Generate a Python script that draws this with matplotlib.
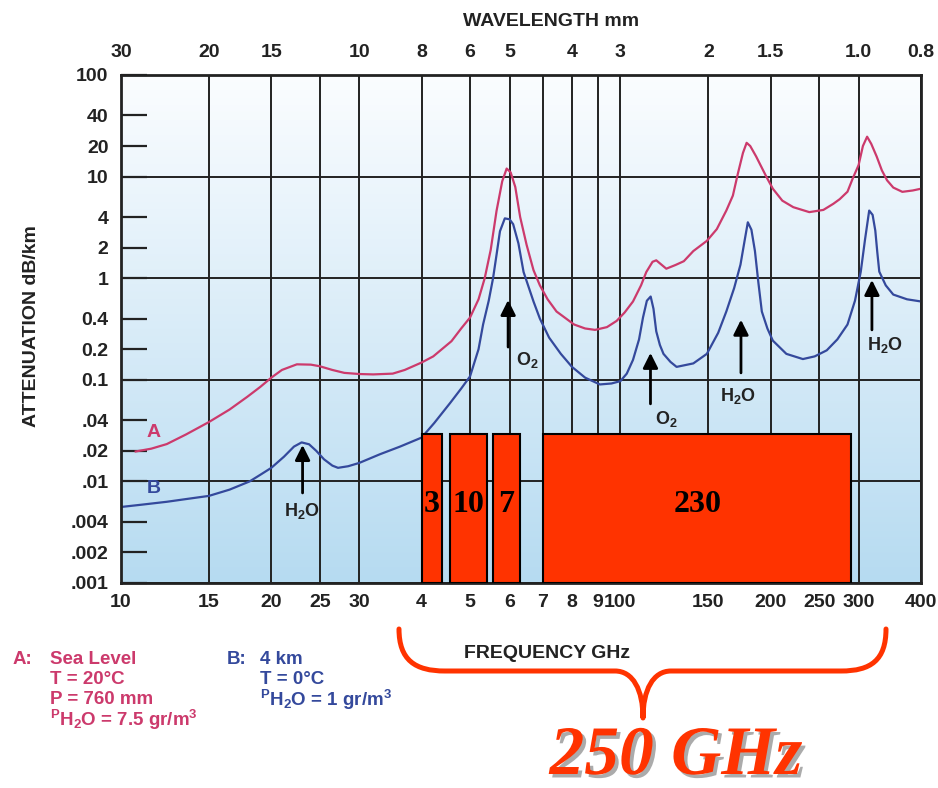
import matplotlib
matplotlib.use('Agg')
import matplotlib.pyplot as plt
import matplotlib.patheffects as pe
from matplotlib.path import Path
from matplotlib.patches import PathPatch
from matplotlib.colors import LinearSegmentedColormap
from matplotlib.ticker import NullLocator
from matplotlib.transforms import Affine2D
import numpy as np

plt.rcParams['font.family'] = ['Liberation Sans', 'DejaVu Sans']
plt.rcParams['mathtext.fontset'] = 'custom'
plt.rcParams['mathtext.rm'] = 'Liberation Sans:bold'
plt.rcParams['mathtext.bf'] = 'Liberation Sans:bold'
plt.rcParams['mathtext.it'] = 'Liberation Sans:bold'
plt.rcParams['mathtext.default'] = 'bf'

# curve A: sea level (GHz, dB/km)
freq_a = [10.7, 11.5, 12.35, 13.5, 15, 16.5, 17.9, 19, 20, 21, 22.5, 24, 25, 26.5, 28, 30, 32, 35, 37,
          40, 42.2, 45.9, 48, 50, 52, 53.5, 55, 56.5, 58, 59.2, 60.3, 61.6, 63, 64.9, 67, 69, 71.5, 74.5,
          80.8, 85, 89, 94, 98.3, 102, 106, 110, 112.7, 116, 118, 120, 123.6, 129, 134, 140, 149, 156,
          163, 168, 172, 176, 179, 182, 187, 196, 202, 211, 222, 239, 255, 267, 275, 285, 292, 300, 306,
          312, 318, 326, 334, 342, 352, 367, 385, 400]
att_a = [0.0197, 0.021, 0.0233, 0.029, 0.0384, 0.051, 0.068, 0.085, 0.105, 0.125, 0.142, 0.141, 0.136,
         0.125, 0.117, 0.114, 0.113, 0.115, 0.125, 0.148, 0.17, 0.24, 0.32, 0.41, 0.62, 1.0, 1.9, 4.6,
         9.0, 12.0, 11.0, 7.9, 4.0, 2.13, 1.2, 0.85, 0.62, 0.47, 0.35, 0.32, 0.31, 0.33, 0.38, 0.46,
         0.59, 0.85, 1.15, 1.45, 1.5, 1.4, 1.24, 1.35, 1.47, 1.85, 2.33, 3.04, 4.63, 6.5, 10.8, 17.1,
         21.5, 20.0, 15.8, 10.0, 7.6, 5.8, 5.0, 4.47, 4.7, 5.4, 6.0, 7.1, 9.6, 13.0, 20.0, 24.7, 21.0,
         15.8, 11.5, 9.2, 7.8, 7.08, 7.3, 7.6]

# curve B: 4 km altitude
freq_b = [10, 11, 12.35, 13.5, 15, 16.5, 18.1, 19, 20, 21.2, 22.2, 23.0, 23.8, 24.6, 25.5, 26.5, 27.2,
          28.5, 30, 33, 36.2, 40, 42.4, 45.6, 48, 50, 52, 53.1, 54.5, 55.6, 56.5, 57.4, 58.7, 60, 61,
          62.5, 64, 67, 69, 72, 76, 80, 85, 91, 96, 100, 103, 106, 109, 111, 113, 115, 116.5, 118, 120,
          122, 126, 129.6, 140, 149, 157, 163, 169, 174, 177.5, 180, 183, 186, 189, 192, 197, 202, 215,
          232, 245, 259, 272, 285, 295, 303, 309, 315, 320, 324, 327, 330, 340, 352, 375, 400]
att_b = [0.0056, 0.0059, 0.0063, 0.0067, 0.0072, 0.0083, 0.0100, 0.0116, 0.0136, 0.0175, 0.022, 0.0242,
         0.0232, 0.020, 0.0165, 0.0143, 0.0136, 0.0141, 0.0152, 0.0185, 0.022, 0.027, 0.0376, 0.059,
         0.082, 0.108, 0.2, 0.35, 0.6, 1.0, 1.7, 2.9, 3.88, 3.8, 3.4, 2.2, 1.15, 0.59, 0.4, 0.26, 0.18,
         0.134, 0.105, 0.09, 0.092, 0.097, 0.115, 0.157, 0.25, 0.41, 0.6, 0.66, 0.5, 0.30, 0.22, 0.18,
         0.15, 0.134, 0.145, 0.18, 0.29, 0.47, 0.8, 1.36, 2.4, 3.55, 3.0, 1.85, 0.9, 0.47, 0.32, 0.243,
         0.18, 0.16, 0.17, 0.195, 0.25, 0.35, 0.6, 1.16, 2.4, 4.63, 4.2, 2.94, 1.8, 1.16, 0.85, 0.69,
         0.62, 0.59]

# frequency bands (GHz) drawn as red blocks
band_lo = [40, 45.5, 55.5, 70]
band_hi = [44, 54, 63, 290]
band_top = 0.029
band_text = ['3', '10', '7', '230']

freq_ticks = [10, 15, 20, 25, 30, 40, 50, 60, 70, 80, 90, 100, 150, 200, 250, 300, 400]
freq_labels = ['10', '15', '20', '25', '30', '4', '5', '6', '7', '8', '9', '100', '150', '200', '250', '300', '400']
wl_ticks = [10, 15, 20, 30, 40, 50, 60, 80, 100, 150, 200, 300, 400]
wl_labels = ['30', '20', '15', '10', '8', '6', '5', '4', '3', '2', '1.5', '1.0', '0.8']
att_major = [0.001, 0.01, 0.1, 1, 10, 100]
att_major_labels = ['.001', '.01', '0.1', '1', '10', '100']
att_minor = [0.002, 0.004, 0.02, 0.04, 0.2, 0.4, 2, 4, 20, 40]
att_minor_labels = ['.002', '.004', '.02', '.04', '0.2', '0.4', '2', '4', '20', '40']

# (freq, arrow tip, arrow tail, label, label freq, label value)
lines_marked = [
    (23.1, 0.0228, 0.0077, 'H$_2$O', 23.0, 0.0051),
    (59.6, 0.61, 0.21, 'O$_2$', 65.2, 0.157),
    (114.9, 0.184, 0.058, 'O$_2$', 123.5, 0.041),
    (174.4, 0.39, 0.117, 'H$_2$O', 172, 0.070),
    (319, 0.96, 0.31, 'H$_2$O', 339, 0.22),
]

W, H = 938, 788
fig = plt.figure(figsize=(W / 100, H / 100), dpi=100)
ax = fig.add_axes([121 / W, 1 - 583 / H, 800 / W, 508 / H])

dark = '#222222'
pink = '#cc3a6c'
blue = '#34499c'

bg = LinearSegmentedColormap.from_list('bg', ['#b6dbf1', '#d9ecf8', '#fbfdff'])
grad = np.linspace(0, 1, 256).reshape(-1, 1)
ax.imshow(grad, cmap=bg, origin='lower', aspect='auto', extent=[0, 1, 0, 1],
          transform=ax.transAxes, zorder=0)

ax.set_xscale('log')
ax.set_yscale('log')
ax.set_xlim(10, 400)
ax.set_ylim(0.001, 100)
ax.set_axisbelow(True)

ax.plot(freq_a, att_a, color=pink, lw=1.6, zorder=2)
ax.plot(freq_b, att_b, color=blue, lw=1.6, zorder=2)

widths = [h - l for l, h in zip(band_lo, band_hi)]
ax.bar(band_lo, [band_top - 0.001] * len(band_lo), width=widths, bottom=0.001, align='edge',
       color='#ff3300', edgecolor='black', linewidth=1.5, zorder=3)
for l, h, t in zip(band_lo, band_hi, band_text):
    ax.text(np.sqrt(l * h), 0.0059, t, ha='center', va='center', fontsize=23,
            fontweight='bold', family='Liberation Serif', color='black', zorder=4)

for f, tip, tail, lab, lf, lv in lines_marked:
    ax.annotate('', xy=(f, tip), xytext=(f, tail),
                arrowprops=dict(arrowstyle='-|>,head_length=0.6,head_width=0.3', color='black',
                                lw=2, mutation_scale=15, shrinkA=0, shrinkB=0), zorder=5)
    ax.text(lf, lv, lab, ha='center', va='center', fontsize=13, fontweight='bold', color=dark, zorder=5)

ax.text(11.6, 0.030, 'A', color=pink, fontsize=14, fontweight='bold', ha='center', va='center')
ax.text(11.65, 0.0086, 'B', color=blue, fontsize=14, fontweight='bold', ha='center', va='center')

ax.xaxis.set_minor_locator(NullLocator())
ax.set_xticks(freq_ticks, freq_labels)
ax.set_yticks(att_major, att_major_labels)
ax.set_yticks(att_minor, att_minor_labels, minor=True)
ax.tick_params(axis='x', which='both', length=0, pad=8, labelsize=14, labelcolor=dark)
ax.tick_params(axis='y', which='both', direction='in', length=18.5, width=1.6, color=dark,
               pad=9, labelsize=14, labelcolor=dark)
for lab in ax.get_xticklabels() + ax.get_yticklabels() + ax.get_yticklabels(minor=True):
    lab.set_fontweight('bold')
ax.grid(axis='x', which='major', color=dark, lw=1.4)
ax.grid(axis='y', which='major', color=dark, lw=1.4)
for s in ax.spines.values():
    s.set_linewidth(2)
    s.set_color(dark)

ax2 = ax.twiny()
ax2.set_xscale('log')
ax2.set_xlim(10, 400)
ax2.xaxis.set_minor_locator(NullLocator())
ax2.set_xticks(wl_ticks, wl_labels)
ax2.tick_params(axis='x', length=0, pad=10, labelsize=14, labelcolor=dark)
for lab in ax2.get_xticklabels():
    lab.set_fontweight('bold')
for s in ax2.spines.values():
    s.set_visible(False)


def px(x, y):
    return x / W, 1 - y / H


fig.text(*px(551, 22), 'WAVELENGTH mm', ha='center', va='center', fontsize=14, fontweight='bold', color=dark)
fig.text(*px(547, 653), 'FREQUENCY GHz', ha='center', va='center', fontsize=14, fontweight='bold', color=dark)
fig.text(*px(31, 326), 'ATTENUATION dB/km', ha='center', va='center', rotation=90, fontsize=14,
         fontweight='bold', color=dark)

legend_a = ['Sea Level', 'T = 20°C', 'P = 760 mm', '${}^{P}$H$_2$O = 7.5 gr/m$^3$']
legend_b = ['4 km', 'T = 0°C', '${}^{P}$H$_2$O = 1 gr/m$^3$']
fig.text(*px(13, 660), 'A:', ha='left', va='center', fontsize=13.5, fontweight='bold', color=pink)
fig.text(*px(227, 660), 'B:', ha='left', va='center', fontsize=13.5, fontweight='bold', color=blue)
for i, t in enumerate(legend_a):
    fig.text(*px(50, 660 + 20 * i), t, ha='left', va='center', fontsize=13.5, fontweight='bold', color=pink)
for i, t in enumerate(legend_b):
    fig.text(*px(260, 660 + 20 * i), t, ha='left', va='center', fontsize=13.5, fontweight='bold', color=blue)

# curly brace under the axis
brace = [(399, 629), (399, 660), (415, 671), (445, 671), (615, 671), (633, 671), (643, 690), (643, 718),
         (643, 690), (653, 671), (671, 671), (841, 671), (871, 671), (886, 660), (886, 629)]
codes = [Path.MOVETO, Path.CURVE4, Path.CURVE4, Path.CURVE4, Path.LINETO, Path.CURVE4, Path.CURVE4,
         Path.CURVE4, Path.CURVE4, Path.CURVE4, Path.CURVE4, Path.LINETO, Path.CURVE4, Path.CURVE4, Path.CURVE4]
to_fig = Affine2D().scale(1 / W, -1 / H).translate(0, 1) + fig.transFigure
fig.patches.append(PathPatch(Path(brace, codes), transform=to_fig, fill=False, edgecolor='#ff3300',
                             lw=3.6, capstyle='round', joinstyle='round'))

fig.text(*px(676, 757), '250 GHz', ha='center', va='center', fontsize=50, fontweight='bold',
         fontstyle='italic', family='Liberation Serif', color='#ff3300',
         path_effects=[pe.withSimplePatchShadow(offset=(2.5, -2.5), shadow_rgbFace='#888888', alpha=0.7)])

fig.savefig('out.png', dpi=100)
